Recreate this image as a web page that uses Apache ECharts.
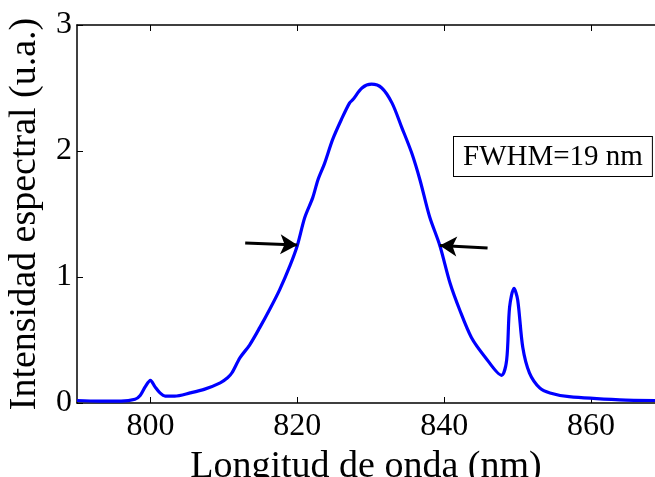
<!DOCTYPE html>
<html>
<head>
<meta charset="utf-8">
<script src="https://cdn.jsdelivr.net/npm/echarts@6/dist/echarts.min.js"></script>
<style>html,body{margin:0;padding:0;background:#fff}#c{width:655px;height:477px}</style>
</head>
<body>
<div id="c"></div>
<script>
const wavelength = [790, 793, 796, 797.9, 798.6, 799.3, 800, 800.6, 801.3, 802, 803.3, 805.4, 807.4, 809.5, 810.5, 811.1, 812.2, 813.5, 814.9, 816.3, 817.6, 819, 820, 821, 822.1, 822.8, 823.7, 824.8, 826, 827.1, 827.6, 828.8, 830.1, 831.5, 832.9, 834.2, 835.6, 836.7, 838, 839.4, 840.8, 842.1, 843.7, 845.5, 847.8, 848.5, 848.9, 849.5, 850, 850.7, 851.6, 853, 854.4, 857, 863.9, 868.7];
const intensity = [0.02, 0.015, 0.015, 0.03, 0.06, 0.13, 0.18, 0.13, 0.08, 0.055, 0.055, 0.08, 0.11, 0.16, 0.2, 0.24, 0.36, 0.46, 0.60, 0.75, 0.90, 1.09, 1.25, 1.47, 1.63, 1.77, 1.90, 2.09, 2.25, 2.38, 2.41, 2.50, 2.53, 2.50, 2.38, 2.19, 1.98, 1.77, 1.48, 1.25, 0.95, 0.74, 0.52, 0.37, 0.22, 0.34, 0.76, 0.91, 0.82, 0.44, 0.24, 0.12, 0.08, 0.05, 0.025, 0.02];
const xTicks = [800, 820, 840, 860];
const yTicks = [0, 1, 2, 3];
const arrowLeft = [[812.9, 1.27], [820.0, 1.254]];
const arrowRight = [[845.9, 1.23], [839.4, 1.25]];
const annotation = 'FWHM=19 nm';

const font = 'Liberation Serif';
const chart = echarts.init(document.getElementById('c'));
chart.setOption({
  animation: false,
  grid: {left: 77, right: 0, top: 25, bottom: 74, containLabel: false, outerBoundsMode: 'none'},
  xAxis: [{
    type: 'value', min: 790, max: 868.7,
    name: 'Longitud de onda (nm)', nameLocation: 'middle', nameGap: 38,
    nameTextStyle: {fontFamily: font, fontSize: 38, color: '#000'},
    axisLine: {show: true, lineStyle: {color: '#000', width: 1.5}},
    axisTick: {show: true, inside: true, length: 6, customValues: xTicks, lineStyle: {color: '#000'}},
    axisLabel: {show: true, customValues: xTicks, fontFamily: font, fontSize: 32, color: '#000', margin: 8},
    splitLine: {show: false}
  }, {
    type: 'value', min: 790, max: 868.7, position: 'top',
    axisLine: {show: true, lineStyle: {color: '#000', width: 1.5}},
    axisTick: {show: true, inside: true, length: 6, customValues: xTicks, lineStyle: {color: '#000'}},
    axisLabel: {show: false},
    splitLine: {show: false}
  }],
  yAxis: [{
    type: 'value', min: 0, max: 3, interval: 1,
    name: 'Intensidad espectral (u.a.)', nameLocation: 'middle', nameGap: 33,
    nameTextStyle: {fontFamily: font, fontSize: 38, color: '#000'},
    axisLine: {show: true, lineStyle: {color: '#000', width: 1.5}},
    axisTick: {show: true, inside: true, length: 6, lineStyle: {color: '#000'}},
    axisLabel: {fontFamily: font, fontSize: 32, color: '#000', margin: 5},
    splitLine: {show: false}
  }],
  series: [{
    type: 'line',
    data: wavelength.map((w, i) => [w, intensity[i]]),
    showSymbol: false,
    smooth: 0.3,
    lineStyle: {color: '#0000ff', width: 3.2},
    markLine: {
      silent: true,
      symbol: ['none', 'arrow'],
      symbolSize: [15, 17],
      label: {show: false},
      lineStyle: {color: '#000', width: 3, type: 'solid'},
      data: [
        [{coord: arrowLeft[0]}, {coord: arrowLeft[1]}],
        [{coord: arrowRight[0]}, {coord: arrowRight[1]}]
      ]
    }
  }],
  graphic: [{
    type: 'text', left: 453, top: 136, z: 10,
    style: {
      text: annotation, fontFamily: font, fontSize: 29, fill: '#000',
      backgroundColor: '#fff', borderColor: '#000', borderWidth: 1,
      padding: [6, 9, 4, 9]
    }
  }]
});
</script>
</body>
</html>
